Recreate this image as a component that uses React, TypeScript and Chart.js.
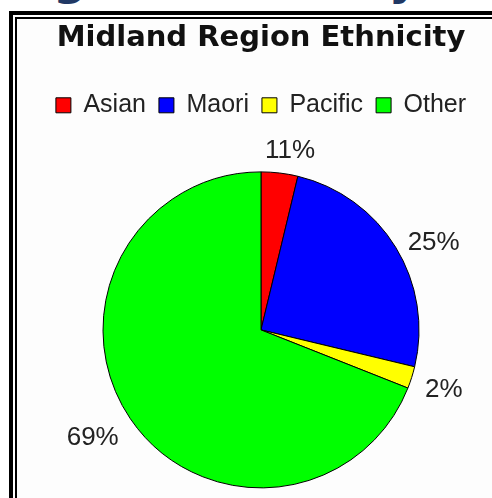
import React, { useEffect, useRef } from "react";
import { Chart, registerables } from "chart.js";

Chart.register(...registerables);

// ---- data ----
const chartTitle = "Midland Region Ethnicity";
const categories = ["Asian", "Maori", "Pacific", "Other"];
const shares = [3.75, 25, 2.25, 69];
const sliceLabels = ["11%", "25%", "2%", "69%"];
const sliceColors = ["#ff0000", "#0000ff", "#ffff00", "#00ff00"];

const outsideLabels = {
  id: "outsideLabels",
  afterDatasetsDraw(chart: any) {
    const ctx = chart.ctx;
    const meta = chart.getDatasetMeta(0);
    ctx.save();
    ctx.font = "26px 'Liberation Sans', Arial, sans-serif";
    ctx.fillStyle = "#222";
    ctx.textAlign = "center";
    ctx.textBaseline = "middle";
    meta.data.forEach((arc: any, i: number) => {
      const p = arc.getProps(["x", "y", "startAngle", "endAngle", "outerRadius"], true);
      const mid = (p.startAngle + p.endAngle) / 2;
      const c = Math.cos(mid);
      const s = Math.sin(mid);
      const text = sliceLabels[i];
      const w = ctx.measureText(text).width;
      const d = p.outerRadius + 14;
      const ax = p.x + c * d;
      const ay = p.y + s * d;
      const cx = ax + Math.sign(c) * Math.min(1, Math.abs(c) * 3) * (w / 2);
      const cy = ay + 6.5 + 14.5 * s * Math.abs(s);
      ctx.fillText(text, cx, cy);
    });
    ctx.restore();
  },
};

export default function App() {
  const ref = useRef<HTMLCanvasElement | null>(null);
  useEffect(() => {
    if (!ref.current) return;
    const chart = new Chart(ref.current, {
      type: "pie",
      data: {
        labels: categories,
        datasets: [
          {
            data: shares,
            backgroundColor: sliceColors,
            borderColor: "#000",
            borderWidth: 1,
            radius: 158,
          } as any,
        ],
      },
      options: {
        responsive: false,
        animation: false,
        layout: { padding: { top: 2, bottom: 17, left: 0, right: 0 } },
        plugins: {
          title: {
            display: true,
            text: chartTitle,
            color: "#111",
            font: { family: "'DejaVu Sans', Verdana, sans-serif", size: 29, weight: "bold" },
            padding: { top: 0, bottom: 24 },
          },
          legend: {
            position: "top",
            labels: {
              boxWidth: 15,
              boxHeight: 15,
              color: "#222",
              font: { family: "'Liberation Sans', Arial, sans-serif", size: 25 },
              padding: 13,
            },
          },
          tooltip: { enabled: false },
        },
      },
      plugins: [outsideLabels],
    });
    return () => chart.destroy();
  }, []);

  return (
    <div style={{ position: "fixed", left: 0, top: 0, width: 492, height: 498, overflow: "hidden", background: "#fff" }}>
      <div
        style={{
          position: "absolute",
          left: -243,
          top: -46,
          whiteSpace: "nowrap",
          font: "bold 47px 'DejaVu Sans', sans-serif",
          lineHeight: "47px",
          color: "#203864",
        }}
      >
        Midland Region Ethnicity
      </div>
      <div style={{ position: "absolute", left: 9, top: 11, width: 700, height: 700, border: "4px solid #000", boxSizing: "border-box" }} />
      <div style={{ position: "absolute", left: 15, top: 17, width: 700, height: 700, border: "2px solid #000", boxSizing: "border-box", background: "#fdfdfd" }} />
      <canvas ref={ref} width={488} height={530} style={{ position: "absolute", left: 17, top: 19, display: "block" }} />
    </div>
  );
}
